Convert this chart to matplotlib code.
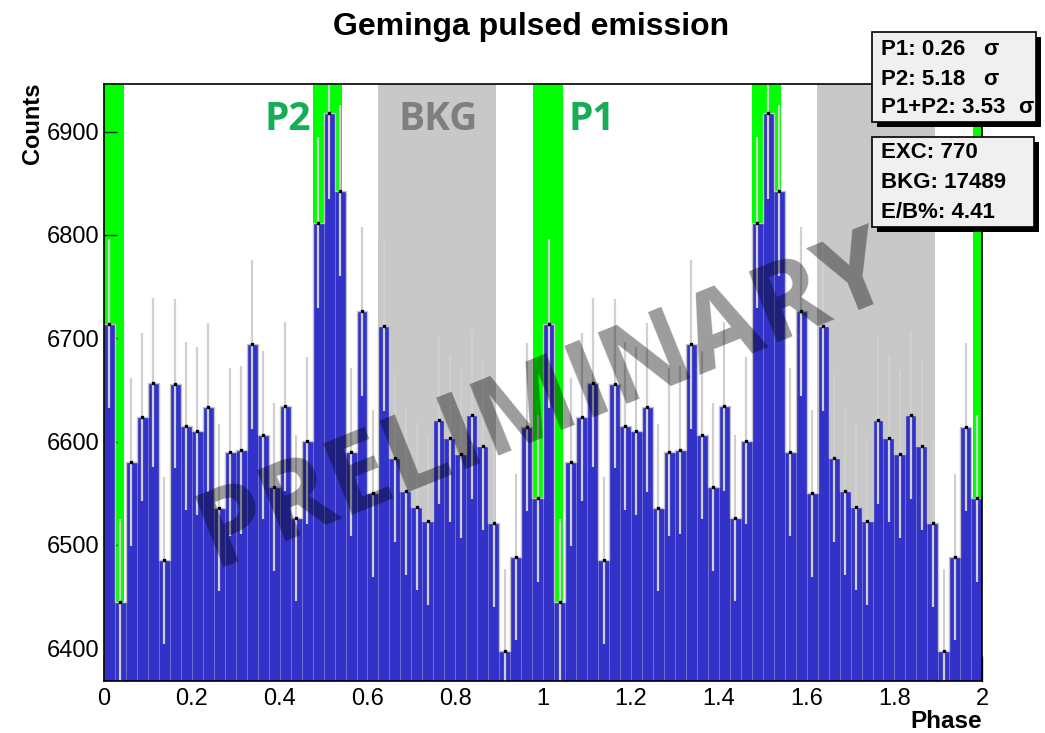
import numpy as np
import matplotlib
matplotlib.use("Agg")
import matplotlib.pyplot as plt
from matplotlib.patches import Rectangle

# ---- data (one phase period, 40 bins of 0.025; shown twice) ----
counts_one_period = [6714, 6445, 6580, 6624, 6657, 6485, 6656, 6615, 6610, 6633,
                     6536, 6590, 6592, 6694, 6606, 6556, 6634, 6526, 6601, 6812,
                     6918, 6843, 6590, 6726, 6550, 6712, 6584, 6552, 6537, 6523,
                     6621, 6603, 6588, 6626, 6596, 6521, 6397, 6488, 6614, 6545]
n_periods = 2
bin_width = 0.025
p1_windows = [(-0.022, 0.045), (0.978, 1.045), (1.978, 2.045)]
p2_windows = [(0.475, 0.541), (1.475, 1.541)]
bkg_windows = [(0.623, 0.893), (1.623, 1.893)]
stats_lines = ["P1: 0.26", "P2: 5.18", "P1+P2: 3.53"]
exc_lines = ["EXC: 770", "BKG: 17489", "E/B%: 4.41"]
yticks = [6400, 6500, 6600, 6700, 6800, 6900]
xticks = [0, 0.2, 0.4, 0.6, 0.8, 1, 1.2, 1.4, 1.6, 1.8, 2]
xticklabels = ["0", "0.2", "0.4", "0.6", "0.8", "1", "1.2", "1.4", "1.6", "1.8", "2"]

counts = np.array(counts_one_period * n_periods, dtype=float)
edges = np.arange(len(counts) + 1) * bin_width
centers = edges[:-1] + bin_width / 2
errors = np.sqrt(counts)

W, H = 1045, 733
fig = plt.figure(figsize=(W / 100, H / 100), dpi=100)
ROOTF = "Liberation Sans"
OPEN = "Open Sans"

def px(x, y):
    return x / W, 1 - y / H

ax = fig.add_axes([104 / W, 1 - 681 / H, (982.3 - 104) / W, (681 - 84.3) / H])
ymin, ymax = 6368.2, 6945.9
ax.set_xlim(0, 2)
ax.set_ylim(ymin, ymax)

for a, b in bkg_windows:
    ax.axvspan(a, b, color="#c8c8c8", lw=0, zorder=1)
for a, b in p1_windows + p2_windows:
    ax.axvspan(a, b, color="#00ff00", lw=0, zorder=1)

ax.bar(edges[:-1], counts - ymin, bottom=ymin, width=bin_width, align="edge",
       color="#3232c8", edgecolor="#7a7ad8", linewidth=0.5, zorder=2)
ax.stairs(counts, edges, baseline=None, color="#c4c4c4", lw=1.0, zorder=2.5)
ax.vlines(centers, counts - errors, counts + errors, color="#d0d0d0", lw=1.6, zorder=3)
ax.plot(centers, counts, ls="none", marker="s", ms=1.5, color="black", zorder=4)

ax.set_xticks(xticks)
ax.set_xticklabels(xticklabels)
ax.set_xticks(np.arange(0, 2.001, 0.05), minor=True)
ax.set_yticks(yticks)
ax.tick_params(axis="both", which="major", direction="in", length=18, width=1,
               labelsize=17, color="#222222")
ax.tick_params(axis="y", which="major", length=9, pad=3.5)
ax.tick_params(axis="x", which="major", pad=5)
ax.tick_params(axis="x", which="minor", direction="in", length=9, width=0.8, color="#222222")
for lab in ax.get_xticklabels() + ax.get_yticklabels():
    lab.set_fontfamily(ROOTF)
for s in ax.spines.values():
    s.set_linewidth(1.2)
    s.set_zorder(6)

# labels
fig.text(*px(531, 35), "Geminga pulsed emission", fontsize=23, fontweight="bold",
         family=ROOTF, ha="center", va="baseline")
fig.text(*px(32, 83), "Counts", fontsize=17, fontweight="bold", family=ROOTF,
         rotation=90, ha="center", va="top")
fig.text(*px(982.5, 728), "Phase", fontsize=17.5, fontweight="bold", family=ROOTF,
         ha="right", va="baseline")

fig.text(*px(265, 130), "P2", fontsize=28, fontweight="bold", family=OPEN,
         color="#16ad55", ha="left", va="baseline", zorder=7)
fig.text(*px(399, 130), "BKG", fontsize=28, fontweight="bold", family=OPEN,
         color="#7f7f7f", ha="left", va="baseline", zorder=7)
fig.text(*px(568, 130), "P1", fontsize=28, fontweight="bold", family=OPEN,
         color="#16ad55", ha="left", va="baseline", zorder=7)

# watermark
fig.text(*px(545, 402), "PRELIMINARY", fontsize=78, fontweight="bold", family=OPEN,
         color="black", alpha=0.39, rotation=22, ha="center", va="center",
         rotation_mode="anchor", zorder=8)

# stat boxes
def box(x0, y0, x1, y1):
    sh = 5
    fig.patches.append(Rectangle(px(x0 + sh, y1 + sh), (x1 - x0) / W, (y1 - y0) / H,
                                 transform=fig.transFigure, facecolor="black",
                                 edgecolor="black", lw=0, zorder=9))
    fig.patches.append(Rectangle(px(x0, y1), (x1 - x0) / W, (y1 - y0) / H,
                                 transform=fig.transFigure, facecolor="#f0f0f0",
                                 edgecolor="black", lw=1.2, zorder=10))

box(871.7, 32.3, 1035.7, 121.7)
box(871.7, 136.7, 1034, 227.3)
rows1 = [49.3, 79.3, 107.3]
sig_x = [983, 983, 1018]
for t, yy, sx in zip(stats_lines, rows1, sig_x):
    fig.text(*px(880.7, yy), t, fontsize=16, fontweight="bold", family=ROOTF,
             ha="left", va="center", zorder=11)
    fig.text(*px(sx, yy), "σ", fontsize=16, fontweight="bold", family=ROOTF,
             ha="left", va="center", zorder=11)
rows2 = [152.7, 182.3, 212.7]
for t, yy in zip(exc_lines, rows2):
    fig.text(*px(880.7, yy), t, fontsize=16, fontweight="bold", family=ROOTF,
             ha="left", va="center", zorder=11)

fig.savefig("out.png", dpi=100)
